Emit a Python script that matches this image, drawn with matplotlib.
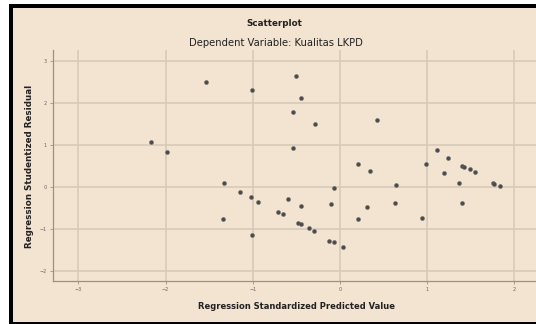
import matplotlib
matplotlib.use("Agg")
import matplotlib.pyplot as plt
from matplotlib.patches import Rectangle

# Data
pred = [-1.534, -1.006, -0.505, -0.447, -0.539, -2.167, -1.98, -0.539,
        -1.33, -1.143, -1.024, -0.937, -0.596, -0.451, -0.715, -0.657,
        -1.345, -1.006, -0.482, -0.451, -0.36, -0.30,
        -0.29, 0.428, 0.21, 0.34, -0.072, 0.646, -0.10, 0.313, 0.635,
        0.21, 0.944, -0.13, -0.069, 0.031, 0.986, 1.116, 1.239, 1.40,
        1.42, 1.49, 1.545, 1.193, 1.368, 1.40, 1.75, 1.77, 1.83]
resid = [2.50, 2.31, 2.63, 2.12, 1.78, 1.06, 0.83, 0.92,
         0.09, -0.13, -0.25, -0.37, -0.29, -0.46, -0.60, -0.66,
         -0.78, -1.15, -0.87, -0.89, -0.99, -1.06,
         1.50, 1.59, 0.54, 0.375, -0.03, 0.03, -0.42, -0.48, -0.40,
         -0.76, -0.75, -1.30, -1.31, -1.45, 0.53, 0.87, 0.685, 0.49,
         0.48, 0.415, 0.35, 0.33, 0.095, -0.39, 0.095, 0.07, 0.017]
xticks = [-3, -2, -1, 0, 1, 2]
yticks = [-2, -1, 0, 1, 2, 3]

W, H = 536, 324
bg = "#f3e3d1"
fig = plt.figure(figsize=(W / 100, H / 100), dpi=100, facecolor="white")

def frect(x0, y0, x1, y1, color):
    # pixel coords with y from top
    fig.patches.append(Rectangle((x0 / W, 1 - y1 / H), (x1 - x0) / W, (y1 - y0) / H,
                                 transform=fig.transFigure, facecolor=color,
                                 edgecolor="none", zorder=-10))

frect(9, 4, W, H, "black")
frect(13, 8, W, 321.5, bg)

ax = fig.add_axes([53.3 / W, 1 - 281 / H, (W - 53.3) / W, (281 - 50) / H])
ax.set_facecolor(bg)
ax.set_xlim(-3.287, 2.248)
ax.set_ylim(-2.25, 3.26)
ax.set_xticks(xticks)
ax.set_yticks(yticks)
ax.grid(True, color="#d8cab9", lw=1.2)
ax.set_axisbelow(True)
for s in ["top", "right"]:
    ax.spines[s].set_visible(False)
for s in ["left", "bottom"]:
    ax.spines[s].set_color("#9a9088")
    ax.spines[s].set_linewidth(0.9)
ax.tick_params(axis="both", labelsize=3.5, colors="#9a9088", labelcolor="#666666",
               length=2.5, width=0.6, pad=2)
ax.scatter(pred, resid, s=8, color="#4a4a4a", edgecolors="#6a6a6a", linewidths=0.4, zorder=3)

fig.text(274.5 / W, 1 - 23 / H, "Scatterplot", ha="center", va="center",
         fontsize=6.3, fontweight="bold", color="#222222")
fig.text(276 / W, 1 - 42.5 / H, "Dependent Variable: Kualitas LKPD", ha="center", va="center",
         fontsize=7.2, color="#222222")
fig.text(296 / W, 1 - 306.7 / H, "Regression Standardized Predicted Value", ha="center",
         va="center", fontsize=6.0, fontweight="bold", color="#222222")
fig.text(30 / W, 1 - 166 / H, "Regression Studentized Residual", ha="center",
         va="center", rotation=90, fontsize=6.3, fontweight="bold", color="#222222")

fig.savefig("out.png", dpi=100, facecolor="white")
